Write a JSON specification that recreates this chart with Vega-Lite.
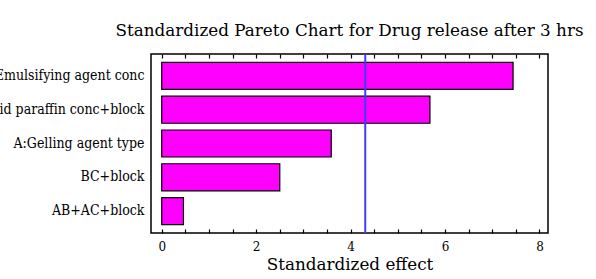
{
  "$schema": "https://vega.github.io/schema/vega-lite/v6.json",
  "autosize": {"type": "none"},
  "padding": {"left": 151, "top": 54, "right": 48, "bottom": 46},
  "width": 397,
  "height": 179,
  "background": "white",
  "config": {
    "view": {"stroke": "black", "strokeWidth": 1.5},
    "font": "DejaVu Serif"
  },
  "title": {
    "text": "Standardized Pareto Chart for Drug release after 3 hrs",
    "font": "DejaVu Serif",
    "fontSize": 16.8,
    "fontWeight": "normal",
    "color": "black",
    "frame": "group",
    "anchor": "middle",
    "offset": 13
  },
  "datasets": {
    "effects": [
      {"factor": "C:Emulsifying agent conc", "effect": 7.44},
      {"factor": "B:Liquid paraffin conc+block", "effect": 5.68},
      {"factor": "A:Gelling agent type", "effect": 3.59},
      {"factor": "BC+block", "effect": 2.5},
      {"factor": "AB+AC+block", "effect": 0.46}
    ],
    "threshold": [{"t": 4.31}]
  },
  "resolve": {"axis": {"x": "independent"}},
  "layer": [
    {
      "data": {"name": "effects"},
      "mark": {"type": "bar", "color": "#ff00ff", "stroke": "black", "strokeWidth": 1.2},
      "encoding": {
        "y": {
          "field": "factor",
          "type": "nominal",
          "sort": null,
          "scale": {"paddingInner": 0.2, "paddingOuter": 0.25},
          "axis": {
            "title": null,
            "ticks": false,
            "domain": false,
            "labelFont": "DejaVu Serif Condensed, DejaVu Serif",
            "labelFontSize": 14,
            "labelColor": "black",
            "labelPadding": 7,
            "labelLimit": 400
          }
        },
        "x": {
          "field": "effect",
          "type": "quantitative",
          "scale": {"domain": [-0.227, 8.18], "nice": false, "zero": false},
          "axis": {
            "orient": "bottom",
            "offset": -4,
            "title": "Standardized effect",
            "titleFont": "DejaVu Serif",
            "titleFontSize": 16.8,
            "titleFontWeight": "normal",
            "titleColor": "black",
            "titlePadding": 4,
            "values": [0, 0.5, 1, 1.5, 2, 2.5, 3, 3.5, 4, 4.5, 5, 5.5, 6, 6.5, 7, 7.5, 8],
            "format": "~g",
            "labelExpr": "datum.value % 2 === 0 ? datum.label : ''",
            "labelFont": "DejaVu Serif",
            "labelFontSize": 12,
            "labelColor": "black",
            "labelPadding": 8,
            "labelFlush": false,
            "tickColor": "black",
            "tickWidth": 1.2,
            "tickSize": 4,
            "domain": false,
            "grid": false
          }
        }
      }
    },
    {
      "data": {"name": "threshold"},
      "mark": {"type": "rule", "color": "#3c3cff", "strokeWidth": 2},
      "encoding": {
        "x": {
          "field": "t",
          "type": "quantitative",
          "axis": {
            "orient": "top",
            "offset": -4,
            "title": null,
            "labels": false,
            "values": [0, 0.5, 1, 1.5, 2, 2.5, 3, 3.5, 4, 4.5, 5, 5.5, 6, 6.5, 7, 7.5, 8],
            "tickColor": "black",
            "tickWidth": 1.2,
            "tickSize": 4,
            "domain": false,
            "grid": false
          }
        }
      }
    }
  ]
}
